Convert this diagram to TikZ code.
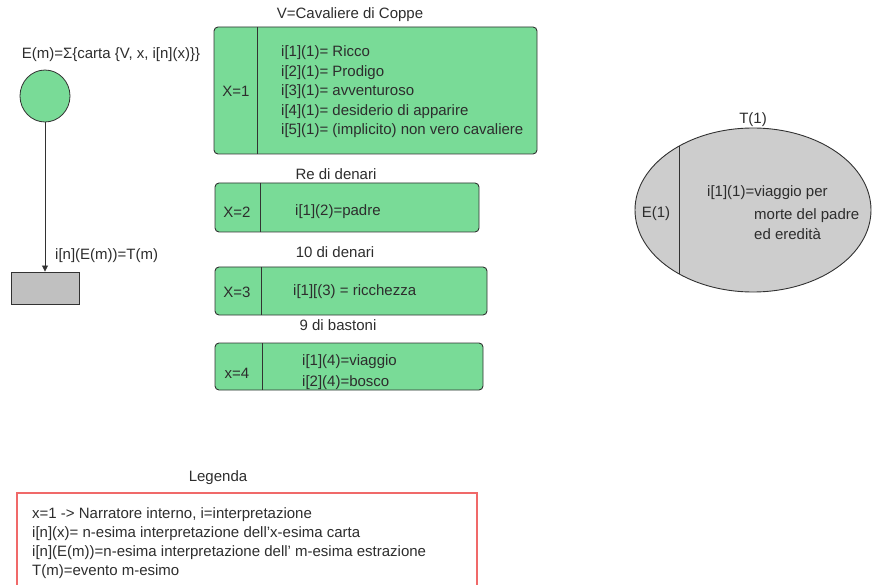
\documentclass[tikz,border=0pt]{standalone}
\usepackage{fontspec}
\setmainfont{Liberation Sans}
\usetikzlibrary{arrows.meta,shapes.geometric}
\definecolor{cardgreen}{RGB}{121,219,151}
\definecolor{edgegray}{RGB}{50,50,50}
\definecolor{boxgray}{RGB}{192,192,192}
\definecolor{ovalgray}{RGB}{205,205,205}
\definecolor{legendred}{RGB}{240,105,105}
\definecolor{inkgray}{RGB}{45,45,45}
\tikzset{
  txt/.style={inner sep=0pt, text=inkgray},
  cardbox/.style={draw=edgegray, fill=cardgreen, rounded corners=4pt, line width=0.9pt, inner sep=0pt},
  divider/.style={draw=edgegray, line width=0.9pt},
  multiline/.style={txt, align=left, anchor=west}
}
\begin{document}
\begin{tikzpicture}[x=1pt, y=-1pt, font=\fontsize{15}{19.5}\selectfont]
\useasboundingbox (0,0) rectangle (875,585);

% extraction and event symbols
\node[txt] (etitle) at (111,55) {E(m)=Σ\{carta \{V, x, i[n](x)\}\}};
\node[ellipse, draw=edgegray, fill=cardgreen, line width=0.8pt, minimum width=50, minimum height=52, inner sep=0pt] (ecirc) at (45,96) {};
\node[draw=edgegray, fill=boxgray, line width=0.9pt, minimum width=68, minimum height=32, inner sep=0pt] (trect) at (45,288) {};
\draw[edgegray, line width=0.8pt, -{Triangle[length=6pt,width=6pt]}] (ecirc.south) -- (trect.north);
\node[txt, anchor=west] (tlabel) at (55,256) {i[n](E(m))=T(m)};

% card 1
\node[txt] (c1title) at (350,15) {V=Cavaliere di Coppe};
\node[cardbox, minimum width=323, minimum height=127] (c1) at (375.5,90.5) {};
\draw[divider] (257,27) -- (257,154);
\node[txt] (c1x) at (236,91) {X=1};
\node[multiline] (c1txt) at (281,92) {i[1](1)= Ricco\\i[2](1)= Prodigo\\i[3](1)= avventuroso\\i[4](1)= desiderio di apparire\\i[5](1)= (implicito) non vero cavaliere};

% card 2
\node[txt] (c2title) at (336,174) {Re di denari};
\node[cardbox, minimum width=264, minimum height=49] (c2) at (347,207.5) {};
\draw[divider] (260,183) -- (260,232);
\node[txt] (c2x) at (237,212) {X=2};
\node[multiline] (c2txt) at (295,212) {i[1](2)=padre};

% card 3
\node[txt] (c3title) at (335,252) {10 di denari};
\node[cardbox, minimum width=272, minimum height=48] (c3) at (351,291) {};
\draw[divider] (261,267) -- (261,315);
\node[txt] (c3x) at (237,292) {X=3};
\node[multiline] (c3txt) at (293,292) {i[1][(3) = ricchezza};

% card 4
\node[txt] (c4title) at (338,325) {9 di bastoni};
\node[cardbox, minimum width=268, minimum height=47] (c4) at (349,366.5) {};
\draw[divider] (262,343) -- (262,390);
\node[txt] (c4x) at (237,373) {x=4};
\node[multiline, font=\fontsize{15}{21}\selectfont] (c4txt) at (302,372) {i[1](4)=viaggio\\i[2](4)=bosco};

% event T(1)
\node[txt] (ttitle) at (753,120) {T(1)};
\node[ellipse, draw=edgegray, fill=ovalgray, line width=0.9pt, minimum width=236, minimum height=164, inner sep=0pt] (toval) at (753,210) {};
\draw[divider] (679,146) -- (679,274);
\node[txt] (te) at (656,214) {E(1)};
\node[txt, anchor=west] (tl1) at (707,193) {i[1](1)=viaggio per};
\node[multiline, font=\fontsize{15}{20}\selectfont] (tl2) at (754,224) {morte del padre\\ed eredità};

% legend
\node[txt] (legtitle) at (218,478) {Legenda};
\draw[legendred, line width=1.2pt] (17,493) rectangle (477,600);
\node[multiline, font=\fontsize{15}{19}\selectfont, anchor=north west] (legtxt) at (32,507.5) {x=1 -> Narratore interno, i=interpretazione\\i[n](x)= n-esima interpretazione dell'x-esima carta\\i[n](E(m))=n-esima interpretazione dell' m-esima estrazione\\T(m)=evento m-esimo};
\end{tikzpicture}
\end{document}
